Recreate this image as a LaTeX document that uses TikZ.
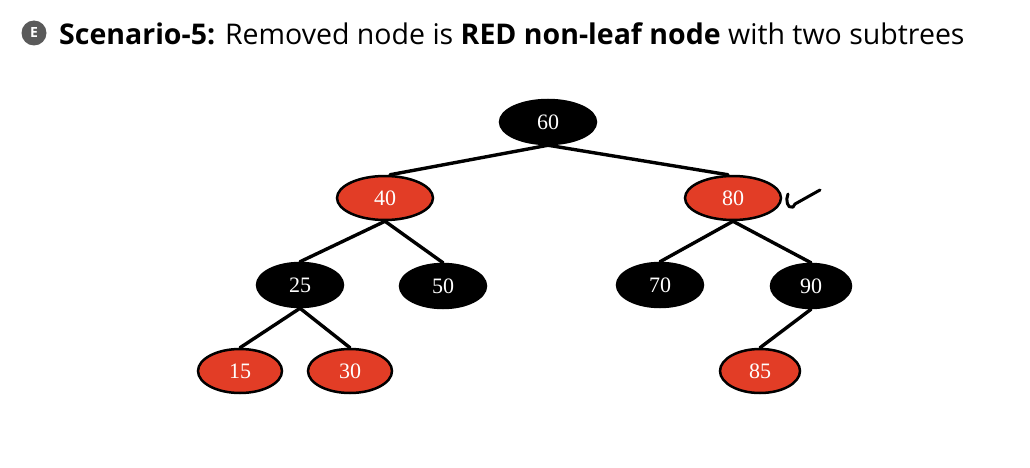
\documentclass[tikz,border=0pt]{standalone}
\usepackage{fontspec}
\setmainfont{Liberation Serif}
\newfontfamily\titlefont{Open Sans}
\usepackage{tikz}
\usetikzlibrary{shapes.geometric,backgrounds}
\definecolor{rbred}{HTML}{E23D26}
\definecolor{icongray}{HTML}{5A5A5A}

\begin{document}
\begin{tikzpicture}[
          x=1pt, y=-1pt,
          rbnode/.style = {ellipse, draw=black, line width=2.5pt, inner sep=0pt,
                        minimum height=44pt, font=\fontsize{22}{22}\selectfont, text=white},
          blk/.style = {rbnode, fill=black},
          red/.style = {rbnode, fill=rbred},
          edge/.style = {line width=3.4pt, line cap=round},
        ]
        \useasboundingbox (0,0) rectangle (1030,468);

        % heading
        \node[circle, fill=icongray, minimum size=25pt, inner sep=0pt, text=white,
              font=\titlefont\bfseries\fontsize{14}{14}\selectfont] (icon) at (34,33) {E};
        \node[anchor=west, inner sep=0pt, font=\titlefont\fontsize{28.5}{28.5}\selectfont]
              (title) at (59,34) {\textbf{Scenario-5:} Removed node is \textbf{RED non-leaf node} with two subtrees};

        % tree
        \node[blk, minimum width=96pt] (n60) at (548,122) {60};
        \node[red, minimum width=96pt] (n40) at (385,198) {40};
        \node[red, minimum width=96pt] (n80) at (733,198) {80};
        \node[blk, minimum width=86pt] (n25) at (300,285) {25};
        \node[blk, minimum width=86pt] (n50) at (443,286) {50};
        \node[blk, minimum width=86pt] (n70) at (660,285) {70};
        \node[blk, minimum width=80pt] (n90) at (811,286) {90};
        \node[red, minimum width=84pt] (n15) at (240,371) {15};
        \node[red, minimum width=84pt] (n30) at (350,371) {30};
        \node[red, minimum width=80pt] (n85) at (760,371) {85};

        \begin{scope}[on background layer]
        \draw[edge] (n60.south) -- ([xshift=5pt]n40.north);
        \draw[edge] (n60.south) -- ([xshift=-5pt]n80.north);
        \draw[edge] (n40.south) -- (n25.north);
        \draw[edge] (n40.south) -- (n50.north);
        \draw[edge] (n80.south) -- (n70.north);
        \draw[edge] (n80.south) -- (n90.north);
        \draw[edge] (n25.south) -- (n15.north);
        \draw[edge] (n25.south) -- (n30.north);
        \draw[edge] (n90.south) -- (n85.north);
        \end{scope}

        % tick mark beside 80
        \coordinate (tick) at (788,194);
        \draw[line width=3pt, line cap=round, line join=round]
              (tick) .. controls +(-3,6) and +(-4,2) .. +(4,13)
              .. controls +(2,-1) and +(-4,6) .. +(7,10) -- +(32,-4);
      \end{tikzpicture}
\end{document}
